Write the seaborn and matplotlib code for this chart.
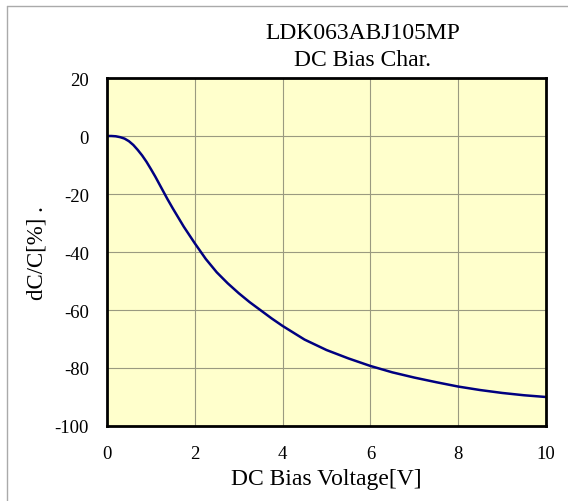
import numpy as np
import pandas as pd
import matplotlib
matplotlib.use("Agg")
import matplotlib.pyplot as plt
import seaborn as sns
from matplotlib.lines import Line2D

# DC bias curve
voltage = [0, 0.1, 0.2, 0.3, 0.4, 0.5, 0.6, 0.7, 0.8, 0.9, 1.0, 1.1, 1.25,
           1.375, 1.5, 1.75, 2.0, 2.25, 2.5, 2.75, 3.0, 3.25, 3.5, 3.75,
           4.0, 4.5, 5.0, 5.5, 6.0, 6.5, 7.0, 7.5, 8.0, 8.5, 9.0, 9.5, 10.0]
dcc = [0, 0, -0.1, -0.4, -0.9, -1.8, -3.1, -4.8, -6.7, -8.9, -11.4, -14.0,
       -18.2, -21.7, -25.0, -31.3, -37.0, -42.4, -47.0, -50.8, -54.2, -57.3,
       -60.1, -62.9, -65.5, -70.2, -73.8, -76.7, -79.3, -81.5, -83.3, -84.9,
       -86.4, -87.6, -88.6, -89.4, -90.0]
xticks = [0, 2, 4, 6, 8, 10]
yticks = [20, 0, -20, -40, -60, -80, -100]

df = pd.DataFrame({"V": voltage, "dC": dcc})

sns.set_style("white")
plt.rcParams['font.family'] = ['Liberation Serif', 'DejaVu Serif']
plt.rcParams['axes.unicode_minus'] = False
plt.rcParams['text.color'] = 'black'
plt.rcParams['axes.labelcolor'] = 'black'

fig = plt.figure(figsize=(5.68, 5.02), dpi=100)
ax = fig.add_axes([107/568, 75/502, 439/568, 348/502])
ax.set_facecolor("#FFFFCC")

sns.lineplot(data=df, x="V", y="dC", ax=ax, color="#000080", linewidth=1.8)

ax.set_xlim(0, 10)
ax.set_ylim(-100, 20)
ax.set_xticks(xticks)
ax.set_yticks(yticks)
ax.grid(True, color="#9A9A80", linewidth=0.8)
ax.tick_params(length=0, labelsize=13.5, colors="black")
ax.tick_params(axis="y", pad=13)
ax.tick_params(axis="x", pad=14)
for s in ax.spines.values():
    s.set_color("black")
    s.set_linewidth(2)

ax.set_xlabel("DC Bias Voltage[V]", fontsize=17, labelpad=4)
ax.set_ylabel("dC/C[%] .", fontsize=16.5, labelpad=5)

fig.text(363/568, 1 - 34/502, "LDK063ABJ105MP", ha="center", va="center", fontsize=17)
fig.text(363/568, 1 - 60/502, "DC Bias Char.", ha="center", va="center", fontsize=17)

# outer frame (only top and left edges fall inside the picture)
fig.add_artist(Line2D([7/568, 7/568], [0, 1 - 7/502], transform=fig.transFigure,
                      color="#AAAAAA", linewidth=1))
fig.add_artist(Line2D([7/568, 1], [1 - 7/502, 1 - 7/502], transform=fig.transFigure,
                      color="#AAAAAA", linewidth=1))

fig.savefig("out.png", dpi=100)
